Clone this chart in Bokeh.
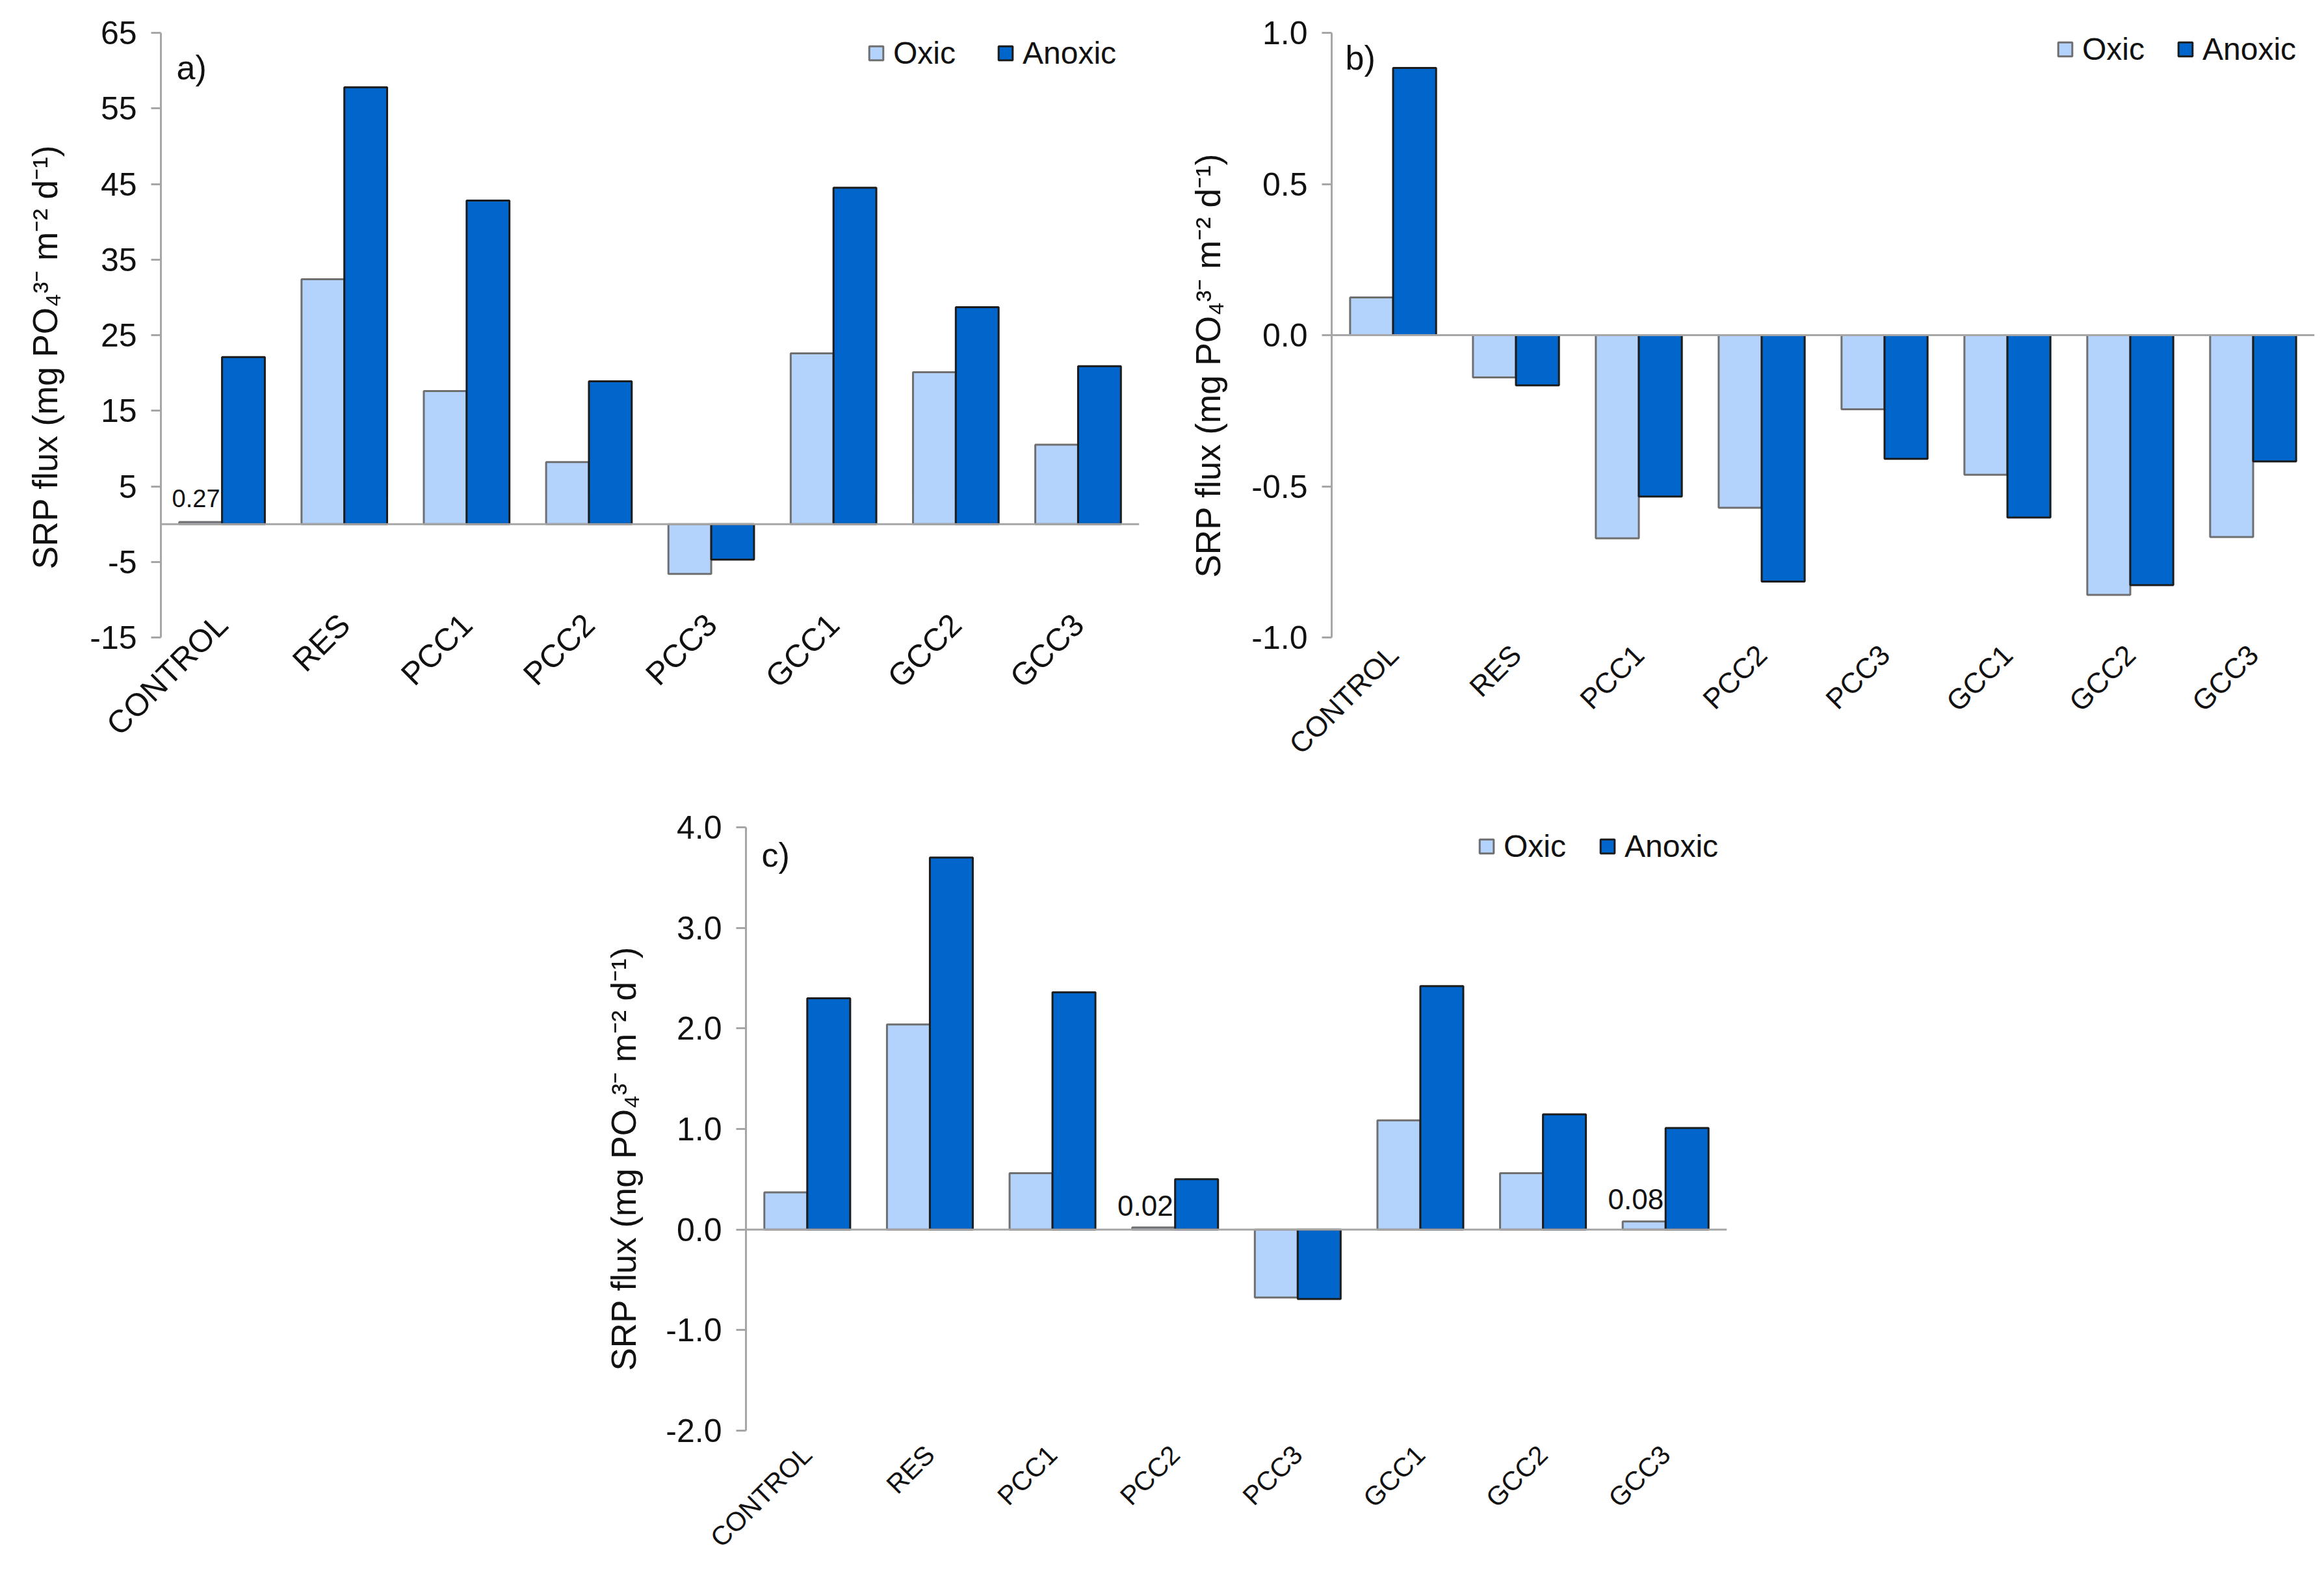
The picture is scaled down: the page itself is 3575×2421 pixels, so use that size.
import math
from bokeh.plotting import figure
from bokeh.models import (FactorRange, Range1d, FixedTicker, PrintfTickFormatter, Span,
                          Legend, LegendItem, Label, ColumnDataSource, Spacer, Title)
from bokeh.transform import dodge
from bokeh.layouts import column, row
from bokeh.core.properties import value
from bokeh.embed import file_html
from bokeh.resources import INLINE

# ---------------- data ----------------
categories = ["CONTROL", "RES", "PCC1", "PCC2", "PCC3", "GCC1", "GCC2", "GCC3"]

a_oxic = [0.27, 32.4, 17.6, 8.2, -6.6, 22.6, 20.1, 10.5]
a_anoxic = [22.1, 57.8, 42.8, 18.9, -4.7, 44.5, 28.7, 20.9]
a_ticks = [-15, -5, 5, 15, 25, 35, 45, 55, 65]
a_labelled = ["CONTROL"]

b_oxic = [0.125, -0.14, -0.672, -0.571, -0.245, -0.462, -0.859, -0.668]
b_anoxic = [0.884, -0.166, -0.534, -0.815, -0.409, -0.603, -0.827, -0.418]
b_ticks = [-1.0, -0.5, 0.0, 0.5, 1.0]
b_labelled = []

c_oxic = [0.37, 2.04, 0.56, 0.02, -0.676, 1.085, 0.56, 0.08]
c_anoxic = [2.30, 3.70, 2.36, 0.50, -0.69, 2.42, 1.145, 1.01]
c_ticks = [-2.0, -1.0, 0.0, 1.0, 2.0, 3.0, 4.0]
c_labelled = ["PCC2", "GCC3"]

series_names = ["Oxic", "Anoxic"]
y_label = "SRP flux (mg PO\u2084\u00b3\u207b m\u207b\u00b2 d\u207b\u00b9)"

# ---------------- style ----------------
FONT = "Liberation Sans"
OXIC_FILL = "#B3D3FC"
OXIC_LINE = "#6f6f6f"
ANOX_FILL = "#0066CC"
ANOX_LINE = "#1c1c1c"
AXIS_GRAY = "#a6a6a6"


def make_panel(oxic, anoxic, ticks, fmt, letter, labelled, *, fw, fh, bl, br, bt, bb,
               legend_xy, legend_spacing, letter_xy, ytitle_standoff, ytitle_offset,
               xlabel_standoff, xlabel_size, dlabel_size, dlabel_off):
    src = ColumnDataSource(dict(cat=categories, oxic=oxic, anoxic=anoxic))
    p = figure(x_range=FactorRange(*categories), y_range=Range1d(ticks[0], ticks[-1]),
               frame_width=fw, frame_height=fh,
               min_border_left=bl, min_border_right=br, min_border_top=bt, min_border_bottom=bb,
               output_backend="svg", toolbar_location=None)
    p.outline_line_color = None
    p.xgrid.visible = False
    p.ygrid.visible = False
    p.background_fill_color = "white"

    r1 = p.vbar(x=dodge("cat", -0.175, range=p.x_range), top="oxic", width=0.35, source=src,
                fill_color=OXIC_FILL, line_color=OXIC_LINE, line_width=3)
    r2 = p.vbar(x=dodge("cat", 0.175, range=p.x_range), top="anoxic", width=0.35, source=src,
                fill_color=ANOX_FILL, line_color=ANOX_LINE, line_width=3)

    p.add_layout(Span(location=0, dimension="width", line_color=AXIS_GRAY, line_width=3))

    # data labels on tiny bars
    if labelled:
        vals = [oxic[categories.index(c)] for c in labelled]
        lsrc = ColumnDataSource(dict(cat=labelled, y=vals, txt=[f"{v:.2f}" for v in vals]))
        p.text(x="cat", y="y", text="txt", source=lsrc, text_align="right",
               text_baseline="alphabetic", x_offset=-3, y_offset=dlabel_off,
               text_font=value(FONT), text_font_size=dlabel_size, text_color="#111111")

    ya = p.yaxis[0]
    ya.ticker = FixedTicker(ticks=ticks)
    ya.formatter = PrintfTickFormatter(format=fmt)
    ya.axis_line_color = AXIS_GRAY
    ya.axis_line_width = 3
    ya.major_tick_line_color = AXIS_GRAY
    ya.major_tick_line_width = 3
    ya.major_tick_in = 0
    ya.major_tick_out = 15
    ya.minor_tick_line_color = None
    ya.major_label_text_font = FONT
    ya.major_label_text_font_size = "50px"
    ya.major_label_text_color = "#111111"
    ya.major_label_standoff = 22

    # vertical y title on the left, anchored from the frame bottom like the original
    p.add_layout(Title(text=y_label, align="left", offset=ytitle_offset, standoff=ytitle_standoff,
                       text_font=FONT, text_font_size="53px", text_font_style="normal",
                       text_color="#111111"), "left")

    xa = p.xaxis[0]
    xa.axis_line_color = None
    xa.major_tick_line_color = None
    xa.minor_tick_line_color = None
    xa.major_label_orientation = math.pi / 4
    xa.major_label_text_font = FONT
    xa.major_label_text_font_size = xlabel_size
    xa.major_label_text_color = "#111111"
    xa.major_label_standoff = xlabel_standoff

    legend = Legend(items=[LegendItem(label=series_names[0], renderers=[r1]),
                           LegendItem(label=series_names[1], renderers=[r2])],
                    orientation="horizontal", location=legend_xy, padding=0, margin=0,
                    spacing=legend_spacing, label_standoff=13, glyph_width=27, glyph_height=27,
                    border_line_color=None, background_fill_alpha=0,
                    label_text_font=FONT, label_text_font_size="48px",
                    label_text_color="#111111")
    p.add_layout(legend)

    p.add_layout(Label(x=letter_xy[0], y=fh - letter_xy[1], x_units="screen", y_units="screen",
                       text=letter, text_font=FONT, text_font_size="52px",
                       text_baseline="middle", text_color="#111111"))
    return p


pa = make_panel(a_oxic, a_anoxic, a_ticks, "%d", "a)", a_labelled,
                fw=1505, fh=930, bl=246, br=39, bt=50, bb=230,
                legend_xy=(1087, 871), legend_spacing=63, letter_xy=(24, 53),
                ytitle_standoff=74, ytitle_offset=105, xlabel_standoff=-34, xlabel_size="49px",
                dlabel_size="38px", dlabel_off=-36)
pb = make_panel(b_oxic, b_anoxic, b_ticks, "%.1f", "b)", b_labelled,
                fw=1512, fh=930, bl=255, br=8, bt=50, bb=230,
                legend_xy=(1115, 877), legend_spacing=49, letter_xy=(21, 38),
                ytitle_standoff=70, ytitle_offset=92, xlabel_standoff=13, xlabel_size="44px",
                dlabel_size="44px", dlabel_off=-34)
pc = make_panel(c_oxic, c_anoxic, c_ticks, "%.1f", "c)", c_labelled,
                fw=1509, fh=928, bl=262, br=40, bt=62, bb=221,
                legend_xy=(1126, 871), legend_spacing=50, letter_xy=(24, 42),
                ytitle_standoff=65, ytitle_offset=92, xlabel_standoff=24, xlabel_size="41px",
                dlabel_size="44px", dlabel_off=-34)

layout = column(row(pa, pb), row(Spacer(width=1147 - 262, height=10), pc))

open("out.html", "w").write(file_html(layout, INLINE))
